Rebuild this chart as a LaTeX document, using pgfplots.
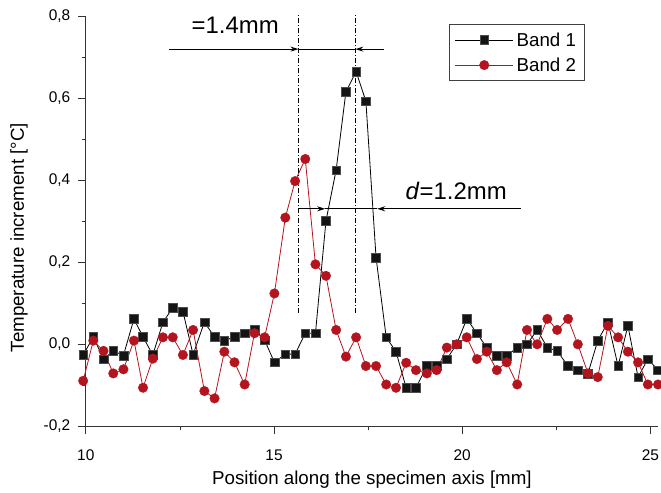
\documentclass[border=0pt]{standalone}
\usepackage{pgfplots}
\usepackage{pgfplotstable}
\pgfplotsset{compat=1.18}
\usepackage{fontspec}
\setmainfont{Liberation Sans}
\usetikzlibrary{arrows.meta}
\definecolor{bandred}{RGB}{180,20,30}

\pgfplotstableread{
x b1 b2
9.93 -0.026 -0.089
10.20 0.018 0.009
10.47 -0.036 -0.016
10.73 -0.016 -0.071
11.00 -0.027 -0.061
11.28 0.062 0.009
11.52 0.018 -0.106
11.78 -0.026 -0.035
12.05 0.054 0.017
12.31 0.089 0.017
12.58 0.080 -0.026
12.85 -0.025 0.035
13.15 0.054 -0.114
13.42 0.018 -0.132
13.68 0.009 -0.018
13.95 0.018 -0.044
14.22 0.027 -0.098
14.48 0.037 0.027
14.75 0.010 0.017
15.01 -0.044 0.124
15.30 -0.024 0.309
15.56 -0.024 0.398
15.83 0.027 0.452
16.10 0.027 0.195
16.38 0.301 0.167
16.65 0.425 0.035
16.91 0.616 -0.030
17.18 0.665 0.017
17.44 0.593 -0.053
17.71 0.212 -0.053
17.98 0.017 -0.098
18.24 -0.018 -0.106
18.51 -0.106 -0.045
18.77 -0.106 -0.063
19.06 -0.053 -0.071
19.32 -0.053 -0.063
19.59 -0.036 -0.008
19.85 0.000 0.000
20.12 0.062 0.017
20.39 0.027 -0.036
20.65 -0.008 -0.018
20.92 -0.028 -0.063
21.18 -0.028 -0.044
21.46 -0.008 -0.098
21.72 0.000 0.035
21.99 0.035 0.000
22.26 -0.008 0.062
22.52 -0.016 0.035
22.81 -0.053 0.062
23.07 -0.063 0.000
23.34 -0.071 -0.071
23.60 0.009 -0.080
23.87 0.054 0.045
24.14 -0.053 0.017
24.40 0.045 -0.018
24.67 -0.080 -0.044
24.93 -0.036 -0.098
25.20 -0.063 -0.098
}\datatable

\begin{document}
\begin{tikzpicture}
\begin{axis}[
  scale only axis,
  width=572.2bp, height=410bp,
  xmin=10, xmax=25.2, ymin=-0.2, ymax=0.8,
  clip=false,
  axis x line*=bottom, axis y line*=left,
  axis line style={line width=0.8bp, black!80},
  tick align=outside,
  xtick={10,15,20,25}, minor x tick num=1,
  ytick={-0.2,0,0.2,0.4,0.6,0.8}, minor y tick num=1,
  major tick length=8bp, minor tick length=4bp,
  every tick/.style={line width=0.8bp, black!80},
  /pgf/number format/assume math mode=true,
  tick label style={font=\fontsize{15.5}{18}\selectfont},
  y tick label style={/pgf/number format/.cd, fixed, fixed zerofill, precision=1, use comma, /tikz/.cd, xshift=-4bp},
  x tick label style={yshift=-12bp},
  xlabel={Position along the specimen axis [mm]},
  ylabel={Temperature increment [°C]},
  label style={font=\fontsize{18.8}{22}\selectfont},
  xlabel style={at={(ticklabel cs:0.5,3bp)}},
  ylabel style={at={(ticklabel cs:0.46,9bp)}},
  legend style={at={(axis cs:19.66,0.781)}, anchor=north west,
    draw=black!75, line width=0.8bp,
    inner xsep=5bp, inner ysep=5bp, row sep=4bp,
    nodes={font=\fontsize{18.8}{21}\selectfont, inner sep=3bp}},
  legend cell align=left,
  legend image code/.code={\draw[mark repeat=2,mark phase=2,#1] plot coordinates {(0bp,0bp) (29bp,0bp) (58bp,0bp)};},
]
\addplot[black, line width=0.8bp, mark=square*, mark size=4.35bp,
  mark options={fill=black!92, draw=black!70, line width=0.4bp, solid}] table[x=x,y=b1]{\datatable};
\addplot[bandred, line width=0.8bp, mark=*, mark size=4.8bp,
  mark options={fill=bandred, draw=bandred, line width=0.3bp, solid}] table[x=x,y=b2]{\datatable};
\legend{Band 1, Band 2}

\draw[line width=0.8bp, dash pattern=on 5bp off 2bp on 1bp off 2bp] (axis cs:15.65,0.076) -- (axis cs:15.65,0.803);
\draw[line width=0.8bp, dash pattern=on 5bp off 2bp on 1bp off 2bp] (axis cs:17.16,0.076) -- (axis cs:17.16,0.803);

\draw[line width=1.2bp, -{Stealth[length=8bp,width=5bp]}] (axis cs:12.21,0.720) -- (axis cs:15.65,0.720);
\draw[line width=1.2bp] (axis cs:15.65,0.720) -- (axis cs:17.16,0.720);
\draw[line width=1.2bp, -{Stealth[length=8bp,width=5bp]}] (axis cs:17.93,0.720) -- (axis cs:17.16,0.720);

\draw[line width=1.2bp, -{Stealth[length=8bp,width=5bp]}] (axis cs:15.65,0.3305) -- (axis cs:16.36,0.3305);
\draw[line width=1.2bp] (axis cs:16.36,0.3305) -- (axis cs:17.74,0.3305);
\draw[line width=1.2bp, -{Stealth[length=8bp,width=5bp]}] (axis cs:21.55,0.3305) -- (axis cs:17.74,0.3305);

\node[anchor=base, font=\fontsize{24}{28}\selectfont, inner sep=0pt] at (axis cs:13.97,0.757) {=1.4mm};
\node[anchor=base, font=\fontsize{24}{28}\selectfont, inner sep=0pt] at (axis cs:19.84,0.354) {\textit{d}=1.2mm};

\coordinate (O) at (axis cs:10,-0.2);
\end{axis}
\pgfresetboundingbox
\path (O) ++(-85.8bp,-66.7bp) rectangle ++(661bp,493bp);
\end{tikzpicture}
\end{document}
